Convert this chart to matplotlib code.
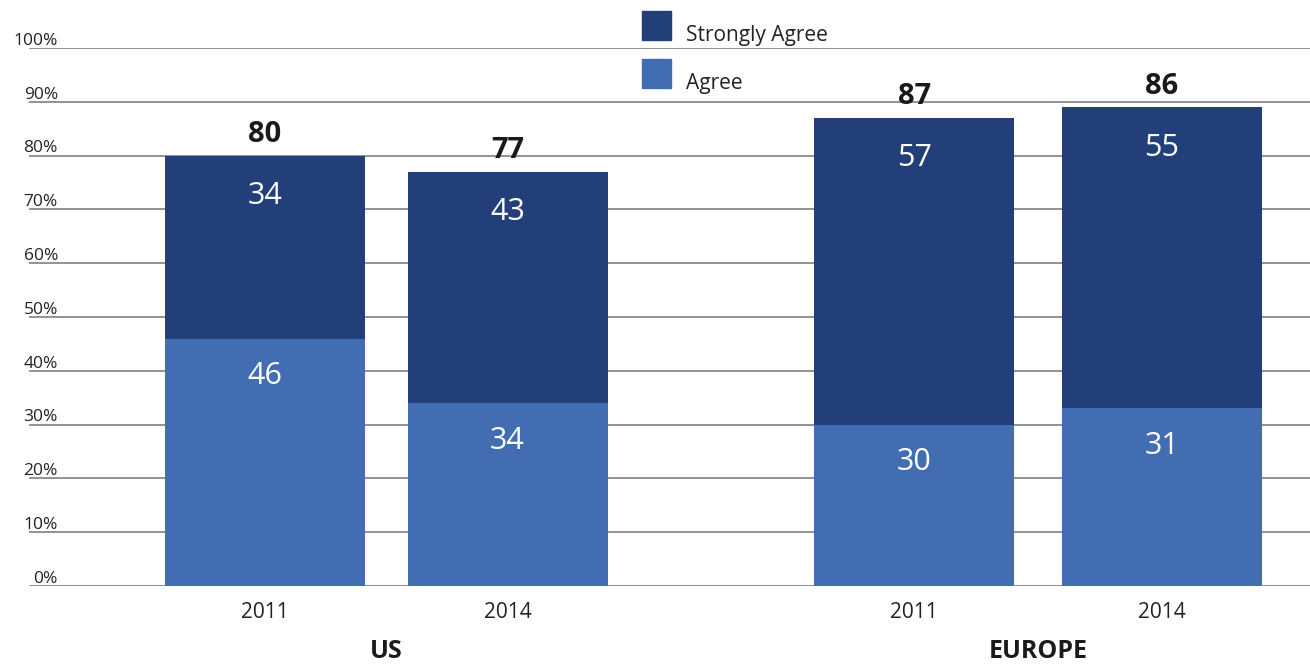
import matplotlib
matplotlib.use("Agg")
import matplotlib.pyplot as plt
from matplotlib.patches import Rectangle

# bar heights as drawn in the chart (percent)
years = ["2011", "2014", "2011", "2014"]
groups = ["US", "EUROPE"]
agree = [46, 34, 30, 33]
strongly_agree = [34, 43, 57, 56]

# numbers printed on the chart
agree_labels = ["46", "34", "30", "31"]
strong_labels = ["34", "43", "57", "55"]
total_labels = ["80", "77", "87", "86"]

yticks = [0, 10, 20, 30, 40, 50, 60, 70, 80, 90, 100]

dark = "#223f7a"
light = "#426db3"

plt.rcParams['font.family'] = ['Open Sans', 'DejaVu Sans']

W, H = 1310, 667
fig = plt.figure(figsize=(W / 100, H / 100), dpi=100)
ax = fig.add_axes([29 / W, 1 - 586 / H, 1 - 29 / W, (586 - 48) / H])

x = [0, 0.99, 2.65, 3.66]
width = 0.816

for t in yticks:
    ax.axhline(t, color="#808080", lw=1.2, zorder=0)
    ax.text(-0.845, t + 0.6, f"{t}%", ha="right", va="baseline",
            fontsize=12.5, color="#222222")

ax.bar(x, agree, width, color=light, zorder=2, label="Agree")
ax.bar(x, strongly_agree, width, bottom=agree, color=dark, zorder=2,
       label="Strongly Agree")

for i in range(len(x)):
    top = agree[i] + strongly_agree[i]
    ax.text(x[i], agree[i] - 7, agree_labels[i], ha="center", va="center",
            color="white", fontsize=22)
    ax.text(x[i], top - 7.5, strong_labels[i], ha="center", va="center",
            color="white", fontsize=22)
    ax.text(x[i], top + 3.9, total_labels[i], ha="center", va="center",
            color="#1a1a1a", fontsize=21, fontweight="bold")
    ax.text(x[i], -5.0, years[i], ha="center", va="center",
            fontsize=15, color="#222222")

for g, name in enumerate(groups):
    cx = (x[2 * g] + x[2 * g + 1]) / 2
    ax.text(cx, -12.2, name, ha="center", va="center", fontsize=18,
            fontweight="bold", color="#1a1a1a")

ax.set_xlim(-0.963, 4.265)
ax.set_ylim(0, 100)
ax.axis("off")

# legend drawn by hand so the swatches match the original layout
legend_items = [("Strongly Agree", dark), ("Agree", light)]
for k, (name, col) in enumerate(legend_items):
    y0 = 11 + 48 * k
    fig.add_artist(Rectangle((642 / W, 1 - (y0 + 29) / H), 29 / W, 29 / H,
                             transform=fig.transFigure, color=col))
    fig.text(686 / W, 1 - (y0 + 24) / H, name, ha="left", va="center",
             fontsize=15, color="#222222")

fig.savefig("out.png", dpi=100)
